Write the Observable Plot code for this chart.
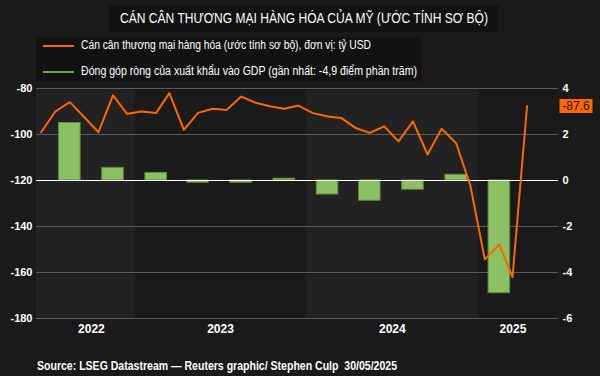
<!DOCTYPE html>
<html>
<head>
<meta charset="utf-8">
<script src="https://cdn.jsdelivr.net/npm/d3@7"></script>
<script src="https://cdn.jsdelivr.net/npm/@observablehq/plot@0.6"></script>
<style>
  html, body { margin: 0; padding: 0; background: #1a1a1a; }
  #wrap { position: relative; width: 600px; height: 376px; background: #1a1a1a; overflow: hidden;
          font-family: "Liberation Sans", Arial, sans-serif; color: #fff; }
  #title { position: absolute; left: 109px; top: 5px; width: 389px; height: 27px; line-height: 27px;
           background: #121212; font-size: 14px; }
  #legend { position: absolute; left: 36px; top: 37px; width: 385px; height: 44px; background: #121212; }
  .item { position: absolute; left: 0; height: 14px; line-height: 14px; font-size: 12px; white-space: nowrap; }
  .sw { position: absolute; left: 7px; width: 31px; height: 2px; top: 7px; }
  .fit { position: absolute; white-space: nowrap; transform-origin: 0 50%; display: inline-block; }
  .lab { left: 45px; top: 0; }
  #chart { position: absolute; left: 0; top: 80px; }
  #source { left: 37px; top: 359px; height: 14px; line-height: 14px; font-size: 12px; font-weight: bold; }
</style>
</head>
<body>
<div id="wrap">
  <div id="title"><span class="fit" id="titleText" data-w="368" style="left:8px;top:0">CÁN CÂN THƯƠNG MẠI HÀNG HÓA CỦA MỸ (ƯỚC TÍNH SƠ BỘ)</span></div>
  <div id="legend">
    <div class="item" style="top:1px"><div class="sw" style="background:#ff6600"></div><span class="fit lab" data-w="290">Cán cân thương mại hàng hóa (ước tính sơ bộ), đơn vị: tỷ USD</span></div>
    <div class="item" style="top:27px"><div class="sw" style="background:#6aa84f"></div><span class="fit lab" data-w="336">Đóng góp ròng của xuất khẩu vào GDP (gần nhất: -4,9 điểm phần trăm)</span></div>
  </div>
  <div id="chart"></div>
  <span class="fit" id="source" data-w="360">Source: LSEG Datastream — Reuters graphic/ Stephen Culp&nbsp; 30/05/2025</span>
</div>
<script>
// ---- Data ----
const months = [
  "2022-06","2022-07","2022-08","2022-09","2022-10","2022-11","2022-12",
  "2023-01","2023-02","2023-03","2023-04","2023-05","2023-06","2023-07","2023-08","2023-09","2023-10","2023-11","2023-12",
  "2024-01","2024-02","2024-03","2024-04","2024-05","2024-06","2024-07","2024-08","2024-09","2024-10","2024-11","2024-12",
  "2025-01","2025-02","2025-03","2025-04"
];
const tradeBalance = [
  -99.0, -90.0, -85.9, -92.5, -99.0, -83.0, -91.0,
  -90.0, -90.6, -82.0, -98.0, -90.6, -88.8, -89.3, -83.5, -86.2, -87.7, -88.8, -87.4,
  -90.7, -92.2, -92.8, -97.2, -99.3, -96.5, -103.0, -94.3, -108.7, -97.5, -103.8, -122.0,
  -154.3, -147.8, -162.0, -87.6
];
const quarters = ["2022-Q3","2022-Q4","2023-Q1","2023-Q2","2023-Q3","2023-Q4","2024-Q1","2024-Q2","2024-Q3","2024-Q4","2025-Q1"];
const netExportContribution = [2.5, 0.55, 0.33, -0.1, -0.1, 0.08, -0.61, -0.88, -0.4, 0.25, -4.9];
const leftTicks = [-180, -160, -140, -120, -100, -80];
const yearLabels = ["2022", "2023", "2024", "2025"];
const yearLabelDates = ["2022-09-30", "2023-07-02", "2024-07-02", "2025-03-16"];

// ---- Derived ----
const utc = (y, m, d) => new Date(Date.UTC(y, m, d));
const xDomain = [utc(2022, 5, 5), utc(2025, 5, 21)];
const yDomain = [-180, -80];
const zeroLeft = -120;               // right-axis 0 aligns with left -120
const toLeft = v => v * 10 + zeroLeft;

const lineData = months.map((m, i) => {
  const [y, mo] = m.split("-").map(Number);
  return {date: utc(y, mo - 1, 15), value: tradeBalance[i]};
});
const barData = quarters.map((q, i) => {
  const y = +q.slice(0, 4), qn = +q.slice(6);
  const mid = utc(y, (qn - 1) * 3 + 1, 15);
  return {x1: d3.utcDay.offset(mid, -23), x2: d3.utcDay.offset(mid, 23), v: netExportContribution[i]};
});
const bands = [2022, 2023, 2024, 2025].map((y, i) => ({
  x1: new Date(Math.max(+xDomain[0], +utc(y, 0, 1))),
  x2: new Date(Math.min(+xDomain[1], +utc(y + 1, 0, 1))),
  light: i % 2 === 0
})).filter(d => d.light);
const labelTicks = yearLabelDates.map(s => new Date(s + "T00:00:00Z"));
const last = [lineData[lineData.length - 1]];
const rectSymbol = {draw(ctx) { ctx.rect(-16.5, -7, 33, 14); }};

const chart = Plot.plot({
  width: 600,
  height: 262,
  marginTop: 8,
  marginBottom: 24,
  marginLeft: 36,
  marginRight: 42,
  style: {background: "transparent", color: "#ffffff", fontFamily: "'Liberation Sans', Arial, sans-serif", fontSize: "11px", fontWeight: "bold"},
  x: {type: "utc", domain: xDomain, label: null},
  y: {domain: yDomain, label: null},
  marks: [
    Plot.rect(bands, {x1: "x1", x2: "x2", y1: () => yDomain[0], y2: () => yDomain[1], fill: "#222222"}),
    Plot.ruleY(leftTicks.filter(t => t !== zeroLeft), {stroke: "#5a5a5a", strokeWidth: 1}),
    Plot.rect(barData, {x1: "x1", x2: "x2", y1: () => zeroLeft, y2: d => toLeft(d.v), fill: "#8cc063", stroke: "#5b8a3c", strokeWidth: 1}),
    Plot.ruleY([zeroLeft], {stroke: "#ffffff", strokeWidth: 1.2}),
    Plot.line(lineData, {x: "date", y: "value", stroke: "#ff6600", strokeWidth: 2}),
    Plot.axisY({anchor: "left", label: null, ticks: leftTicks, tickSize: 0, tickPadding: 4, tickFormat: d => String(d), fontSize: 11}),
    Plot.axisY({anchor: "right", label: null, ticks: leftTicks, tickSize: 0, tickPadding: 4, tickFormat: d => String((d - zeroLeft) / 10), fontSize: 11}),
    Plot.axisX({label: null, ticks: labelTicks, tickSize: 0, tickPadding: 6, tickFormat: (d, i) => yearLabels[i], fontSize: 12}),
    Plot.dot(last, {y: "value", frameAnchor: "right", dx: 17.5, symbol: rectSymbol, fill: "#ff6600", stroke: "none"}),
    Plot.text(last, {y: "value", frameAnchor: "right", dx: 17.5, textAnchor: "middle", text: d => d.value.toFixed(1), fill: "#1a1a1a", fontSize: 12, fontWeight: "normal"})
  ]
});
document.getElementById("chart").appendChild(chart);

// Condense the header/legend/source texts to the reference widths (narrow typeface look)
document.querySelectorAll(".fit").forEach(el => {
  const target = +el.dataset.w;
  const w = el.getBoundingClientRect().width;
  if (w > 0) el.style.transform = `scaleX(${target / w})`;
});
const tt = document.getElementById("titleText");
tt.style.left = ((389 - 368) / 2) + "px";
</script>
</body>
</html>
